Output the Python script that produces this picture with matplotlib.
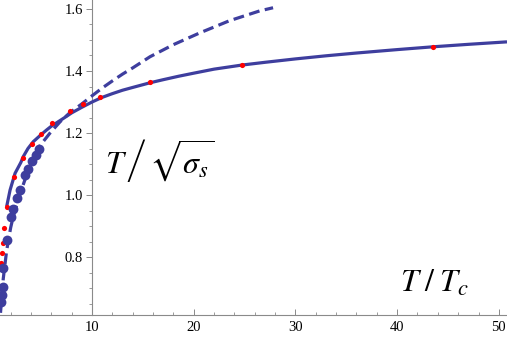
import matplotlib
matplotlib.use("Agg")
import matplotlib.pyplot as plt
from matplotlib.ticker import MultipleLocator, FixedLocator

# ---- data ----
solid_x = [1.6, 1.94, 2.43, 3.0, 3.24, 3.7, 4.22, 5.0, 5.54, 6.0, 6.85, 7.5, 8.0, 9.0,
           10.0, 11.0, 12.0, 13.0, 14.0, 15.7, 17.0, 18.5, 20.0, 22.0, 24.7, 27.0,
           30.0, 33.0, 36.0, 40.0, 43.5, 47.0, 50.8]
solid_y = [0.962, 1.016, 1.07, 1.105, 1.124, 1.15, 1.172, 1.195, 1.21, 1.222, 1.24, 1.254,
           1.265, 1.283, 1.300, 1.315, 1.327, 1.338, 1.347, 1.362, 1.372, 1.383, 1.393,
           1.406, 1.419, 1.428, 1.439, 1.449, 1.458, 1.469, 1.478, 1.486, 1.494]

dash_x = [1.0, 1.12, 1.27, 1.6, 2.0, 2.25, 2.74, 3.2, 3.57, 4.22, 4.9, 5.87, 6.85, 7.8,
          9.0, 10.0, 11.0, 12.0, 13.0, 14.0, 15.7, 18.0, 20.6, 23.5, 26.5, 27.8]
dash_y = [0.62, 0.67, 0.73, 0.82, 0.895, 0.93, 0.985, 1.03, 1.065, 1.12, 1.16, 1.2, 1.236,
          1.265, 1.294, 1.320, 1.345, 1.368, 1.39, 1.41, 1.446, 1.485, 1.523, 1.562,
          1.594, 1.604]

red_x = [1.05, 1.12, 1.2, 1.35, 1.6, 2.33, 3.24, 4.06, 4.95, 6.1, 7.8, 9.1, 10.8, 15.7,
         24.7, 43.5]
red_y = [0.78, 0.812, 0.845, 0.893, 0.962, 1.057, 1.12, 1.165, 1.197, 1.233, 1.271, 1.294,
         1.317, 1.365, 1.419, 1.478]

blue_x = [1.05, 1.12, 1.2, 1.27, 1.6, 2.05, 2.25, 2.6, 2.9, 3.4, 3.7, 4.1, 4.45, 4.75]
blue_y = [0.655, 0.677, 0.704, 0.763, 0.855, 0.93, 0.955, 0.99, 1.015, 1.065, 1.085, 1.11,
          1.13, 1.15]

x_major = [10, 20, 30, 40, 50]
y_major = [0.8, 1.0, 1.2, 1.4, 1.6]
y_labels = ["0.8", "1.0", "1.2", "1.4", "1.6"]

# ---- style ----
plt.rcParams['font.family'] = ['Liberation Serif', 'DejaVu Serif']
plt.rcParams['mathtext.fontset'] = 'stix'
BLUE = '#3e3e9e'
GRAY = '#8a8a8a'

fig = plt.figure(figsize=(5.07, 3.40), dpi=100)
ax = fig.add_axes([0.0, 25 / 340, 1.0, 315 / 340])
ax.set_xlim(0.95, 50.8)
ax.set_ylim(0.613, 1.629)

ax.plot(solid_x, solid_y, color=BLUE, lw=2.3, solid_capstyle='butt',
        solid_joinstyle='round', zorder=3)
ax.plot(dash_x, dash_y, color=BLUE, lw=2.3, linestyle=(0, (3.4, 1.7)),
        dash_capstyle='butt', zorder=3)
ax.scatter(red_x, red_y, s=14, color='red', linewidths=0, zorder=4)
ax.scatter(blue_x, blue_y, s=50, color=BLUE, linewidths=0, zorder=5)

# axes in Mathematica style
for s in ['top', 'right']:
    ax.spines[s].set_visible(False)
ax.spines['left'].set_position(('data', 10))
ax.spines['left'].set_color(GRAY)
ax.spines['bottom'].set_color(GRAY)
ax.spines['left'].set_linewidth(0.8)
ax.spines['bottom'].set_linewidth(0.8)
ax.spines['left'].set_zorder(1)

ax.xaxis.set_major_locator(FixedLocator(x_major))
ax.xaxis.set_minor_locator(MultipleLocator(2))
ax.yaxis.set_major_locator(FixedLocator(y_major))
ax.set_yticklabels(y_labels)
ax.yaxis.set_minor_locator(MultipleLocator(0.05))

ax.tick_params(axis='x', which='both', direction='in', color=GRAY, labelsize=10.5,
               pad=4)
ax.tick_params(axis='x', which='major', length=4.5, width=0.7)
ax.tick_params(axis='x', which='minor', length=2.5, width=0.6)
ax.tick_params(axis='y', which='both', direction='out', color=GRAY, labelsize=10.5,
               pad=2)
ax.tick_params(axis='y', which='major', length=4.5, width=0.7)
ax.tick_params(axis='y', which='minor', length=2.5, width=0.6)

fig.text(105 / 507, 1 - 160 / 340, r'$T\,\left/\,\sqrt{\sigma_s}\right.$', fontsize=23,
         va='center', ha='left')
fig.text(400 / 507, 1 - 284 / 340, r'$T\;/\;T_c$', fontsize=23, va='center', ha='left')

fig.savefig('out.png', dpi=100)
